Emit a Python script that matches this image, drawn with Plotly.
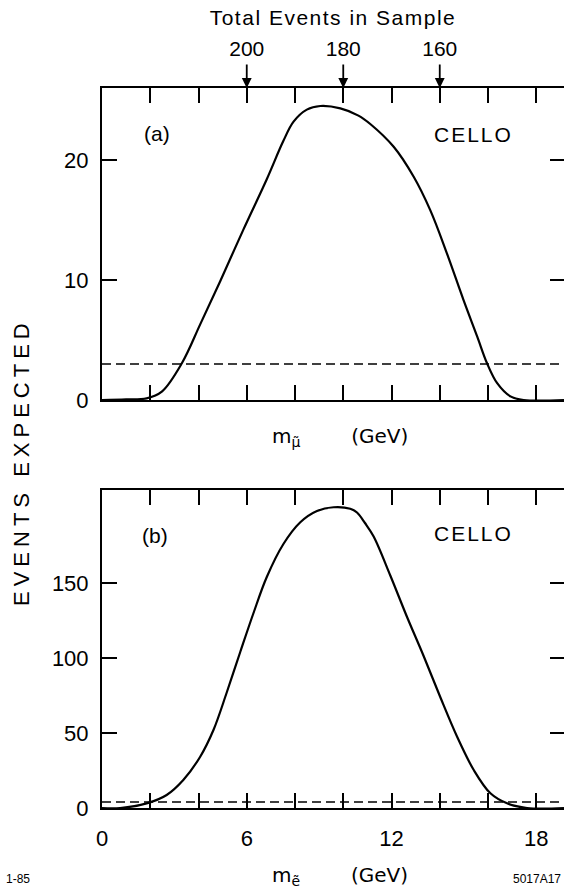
import plotly.graph_objects as go

# Slepton mass scan (GeV) and expected event counts
mass_mu = [0, 1.0, 1.85, 2.48, 3.31, 4.07, 4.90, 5.86, 6.83, 7.52, 7.94, 8.49, 9.05,
           9.88, 10.63, 11.12, 12.09, 12.92, 13.61, 14.30, 14.99, 15.55, 15.96, 16.38,
           16.93, 17.48, 19.15]
events_mu = [0, 0.05, 0.14, 0.7, 3.06, 6.3, 9.9, 14.2, 18.4, 21.6, 23.2, 24.2, 24.5,
             24.3, 23.7, 23.0, 21.1, 18.6, 15.8, 12.2, 8.3, 5.3, 3.06, 1.4,
             0.3, 0, 0]

mass_e = [0, 0.75, 1.85, 2.68, 3.37, 4.07, 4.62, 5.17, 5.73, 6.28, 6.83, 7.52, 8.22,
          8.91, 9.60, 10.29, 10.57, 10.90, 11.26, 11.95, 12.64, 13.34, 14.02, 14.72,
          15.41, 16.10, 16.79, 17.62, 19.15]
events_e = [0, 0, 3.1, 8.7, 18.7, 34.2, 52, 77, 104, 130, 154, 176, 190.5,
            198, 200.5, 199.5, 197, 190, 181, 155, 127.5, 101, 74, 47.5,
            25.3, 9.8, 3.1, 0, 0]

# 95% CL limits on the number of events
limit_mu = 3
limit_e = 4

# Total events in sample at selected masses (top scale)
sample_mass = [6, 10, 14]
sample_events = ["200", "180", "160"]

x_ticks = [0, 2, 4, 6, 8, 10, 12, 14, 16, 18]
x_ticktext = ["0", "", "", "6", "", "", "12", "", "", "18"]
x_range = [0, 19.15]

FONT = "Liberation Sans"
W, H = 564, 895
ML, MB = 102, 87
PH = H - MB  # paper height in px (top margin is zero)


def fy(py):
    """Paper fraction for a pixel row measured from the top."""
    return (PH - py) / PH


def fx(px):
    return (px - ML) / (W - ML)


y_top = [0, 26]
y_bot = [0, 212]

fig = go.Figure()

line = dict(color="black", width=2.2, shape="spline", smoothing=1.0)
dash = dict(color="black", width=1.6, dash="9px,5px")
hidden = dict(mode="markers", marker=dict(opacity=0), hoverinfo="skip",
              showlegend=False)

fig.add_trace(go.Scatter(x=mass_mu, y=events_mu, mode="lines", line=line,
                         xaxis="x", yaxis="y", showlegend=False))
fig.add_trace(go.Scatter(x=x_range, y=[limit_mu, limit_mu], mode="lines", line=dash,
                         xaxis="x", yaxis="y", showlegend=False))
fig.add_trace(go.Scatter(x=mass_e, y=events_e, mode="lines", line=line,
                         xaxis="x2", yaxis="y2", showlegend=False))
fig.add_trace(go.Scatter(x=x_range, y=[limit_e, limit_e], mode="lines", line=dash,
                         xaxis="x2", yaxis="y2", showlegend=False))
# Carriers for the top sample-size scale and the right-hand tick axes
fig.add_trace(go.Scatter(x=sample_mass, y=[y_top[1]] * 3, xaxis="x3", yaxis="y",
                         **hidden))
fig.add_trace(go.Scatter(x=x_range, y=y_top, xaxis="x", yaxis="y3", **hidden))
fig.add_trace(go.Scatter(x=x_range, y=y_bot, xaxis="x2", yaxis="y4", **hidden))

tick_font = dict(family=FONT, size=22, color="black")
common_x = dict(range=x_range, tickvals=x_ticks, ticks="inside", ticklen=15,
                tickwidth=2, tickcolor="black", showline=True, linewidth=2,
                linecolor="black", mirror="ticks", showgrid=False, zeroline=False,
                tickfont=tick_font)
common_y = dict(ticks="inside", ticklen=15, tickwidth=2, tickcolor="black",
                showline=True, linewidth=2, linecolor="black", showgrid=False,
                zeroline=False, tickfont=tick_font, ticklabelstandoff=7)
right_y = dict(ticks="inside", ticklen=14, tickwidth=2, tickcolor="black",
               showline=False, showgrid=False, zeroline=False,
               showticklabels=False, side="right")

fig.update_layout(
    width=W, height=H,
    margin=dict(l=ML, r=0, t=0, b=MB),
    paper_bgcolor="white", plot_bgcolor="white",
    font=dict(family=FONT, color="black"),
    xaxis=dict(**common_x, anchor="y", showticklabels=False),
    yaxis=dict(**common_y, domain=[fy(400), fy(88)], range=y_top,
               tickvals=[0, 10, 20], anchor="x"),
    yaxis3=dict(**right_y, overlaying="y", anchor="x", range=y_top,
                tickvals=[10, 20]),
    xaxis2=dict(**common_x, anchor="y2", ticktext=x_ticktext,
                ticklabelstandoff=10),
    yaxis2=dict(**common_y, domain=[0, fy(490)], range=y_bot,
                tickvals=[0, 50, 100, 150], anchor="x2"),
    yaxis4=dict(**right_y, overlaying="y2", anchor="x2", range=y_bot,
                tickvals=[50, 100, 150]),
    xaxis3=dict(overlaying="x", anchor="free", position=fy(60), side="top",
                range=x_range, tickvals=sample_mass, ticktext=sample_events,
                ticks="", showline=False, showgrid=False, zeroline=False,
                tickfont=dict(family=FONT, size=21, color="black"),
                title=dict(text='<span style="letter-spacing:1.5px">'
                                'Total Events in Sample</span>',
                           font=dict(family=FONT, size=21), standoff=4)),
)

# Arrows marking the sample sizes on the top scale
for m in sample_mass:
    fig.add_annotation(x=m, y=y_top[1], xref="x", yref="y", text="",
                       showarrow=True, ax=0, ay=-25, arrowhead=2, arrowsize=1.1,
                       arrowwidth=1.8, arrowcolor="black")

# Mass axis titles
title_font = dict(family="DejaVu Sans", size=20, color="black")
fig.add_annotation(x=fx(340), y=fy(437), xref="paper", yref="paper",
                   text="m<sub>μ̃</sub>        (GeV)", xanchor="center",
                   yanchor="middle", showarrow=False, font=title_font)
fig.add_annotation(x=fx(340), y=fy(876), xref="paper", yref="paper",
                   text="m<sub>ẽ</sub>        (GeV)", xanchor="center",
                   yanchor="middle", showarrow=False, font=title_font)

label_font = dict(family=FONT, size=21, color="black")
fig.add_annotation(x=2.3, y=22.2, xref="x", yref="y", text="(a)",
                   showarrow=False, font=label_font)
fig.add_annotation(x=15.4, y=22.1, xref="x", yref="y",
                   text='<span style="letter-spacing:2px">CELLO</span>',
                   showarrow=False, font=label_font)
fig.add_annotation(x=2.2, y=182, xref="x2", yref="y2", text="(b)",
                   showarrow=False, font=label_font)
fig.add_annotation(x=15.4, y=183, xref="x2", yref="y2",
                   text='<span style="letter-spacing:2px">CELLO</span>',
                   showarrow=False, font=label_font)

fig.add_annotation(x=fx(21), y=fy(462), xref="paper", yref="paper",
                   text='<span style="letter-spacing:5px">EVENTS EXPECTED</span>',
                   textangle=-90, xanchor="center", yanchor="middle",
                   showarrow=False, font=dict(family=FONT, size=22, color="black"))

small = dict(family=FONT, size=12, color="black")
fig.add_annotation(x=fx(4), y=fy(879), xref="paper", yref="paper", text="1-85",
                   xanchor="left", yanchor="middle", showarrow=False, font=small)
fig.add_annotation(x=fx(563), y=fy(879), xref="paper", yref="paper", text="5017A17",
                   xanchor="right", yanchor="middle", showarrow=False, font=small)

fig.write_html("out.html")
